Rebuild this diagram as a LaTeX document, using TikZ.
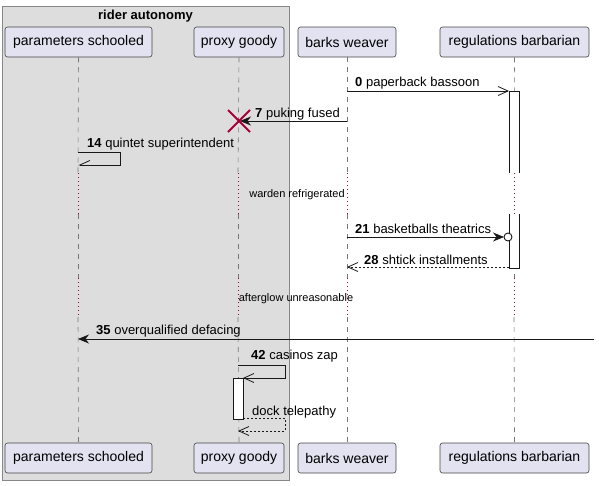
\documentclass[tikz,border=0pt]{standalone}
\usepackage{fontspec}
\setmainfont{Liberation Sans}
\usetikzlibrary{arrows.meta}
\definecolor{partfill}{HTML}{E2E2F0}
\definecolor{lineblk}{HTML}{181818}
\definecolor{grpfill}{HTML}{DDDDDD}
\definecolor{grpline}{HTML}{888888}
\definecolor{lifegray}{HTML}{777777}
\definecolor{delayred}{HTML}{A80036}
\begin{document}
\begin{tikzpicture}[x=1pt,y=-1pt,
  part/.style={draw=lineblk!80, fill=partfill, rounded corners=2.5pt, line width=0.6pt,
    minimum height=30pt, inner sep=0pt, font=\fontsize{14}{16}\selectfont},
  lifeline/.style={draw=lifegray, dash pattern=on 5pt off 5pt, line width=0.6pt},
  delayline/.style={draw=delayred, dash pattern=on 1pt off 3pt, line width=1pt},
  msg/.style={draw=lineblk, line width=0.8pt},
  retmsg/.style={draw=lineblk, line width=0.8pt, dash pattern=on 2pt off 2pt},
  openhead/.style={-{Straight Barb[length=10pt,width=9pt,line width=0.8pt]}},
  halfhead/.style={-{Straight Barb[right,length=10pt,width=9pt,line width=0.8pt]}},
  fullhead/.style={-{Stealth[length=11pt,width=9pt,inset=3.5pt]}},
  lbl/.style={anchor=west, inner sep=0pt, font=\fontsize{13}{15}\selectfont},
  dlbl/.style={inner sep=0pt, font=\fontsize{11}{13}\selectfont},
  actbar/.style={fill=white, draw=lineblk, line width=0.8pt},
  destroy/.style={draw=delayred, line width=1.8pt}
]
\useasboundingbox (0,0) rectangle (599,485);
% group box
\draw[fill=grpfill, draw=grpline, line width=0.8pt] (2,6) rectangle (289,480);
\node[inner sep=0pt, font=\fontsize{13}{15}\selectfont\bfseries] (gtitle) at (145.5,16.5) {rider autonomy};

% participants
\node[part, minimum width=147pt] (ps) at (78.5,42) {parameters schooled};
\node[part, minimum width=90pt] (pg) at (239,42) {proxy goody};
\node[part, minimum width=98pt] (bw) at (347,42) {barks weaver};
\node[part, minimum width=149pt] (rb) at (514.5,42) {regulations barbarian};
\node[part, minimum width=147pt] (psb) at (78.5,458) {parameters schooled};
\node[part, minimum width=90pt] (pgb) at (239,458) {proxy goody};
\node[part, minimum width=98pt] (bwb) at (347,458) {barks weaver};
\node[part, minimum width=149pt] (rbb) at (514.5,458) {regulations barbarian};

% lifelines with delays
\foreach \p/\x in {ps/78, pg/238, bw/347, rb/514}{
  \coordinate (\p d1) at (\x,173);
  \coordinate (\p d2) at (\x,214);
  \coordinate (\p d3) at (\x,278);
  \coordinate (\p d4) at (\x,317);
  \draw[lifeline] (\p.south) -- (\p d1);
  \draw[delayline] (\p d1) -- (\p d2);
  \draw[lifeline] (\p d2) -- (\p d3);
  \draw[delayline] (\p d3) -- (\p d4);
  \draw[lifeline] (\p d4) -- (\p b.north);
}
\node[dlbl] (delay1) at (297,195) {warden refrigerated};
\node[dlbl] (delay2) at (296,299) {afterglow unreasonable};

% activation bars
\fill[white] (509,91) rectangle (519,173);
\draw[lineblk, line width=0.8pt] (509,173) -- (509,91) -- (519,91) -- (519,173);
\fill[white] (509,214) rectangle (519,268);
\draw[lineblk, line width=0.8pt] (509,214) -- (509,268) -- (519,268) -- (519,214);
\draw[actbar] (233,378) rectangle (243,419);

% message 0
\coordinate (m0a) at (347,91);
\coordinate (m0b) at (509,91);
\draw[msg, openhead] (m0a) -- (m0b);
\node[lbl] (l0) at (355,83) {\textbf{0} paperback bassoon};

% message 7 with destroy
\coordinate (m7a) at (347,121);
\coordinate (m7b) at (240,121);
\draw[msg, fullhead] (m7a) -- (m7b);
\coordinate (x7) at (239,121);
\draw[destroy] ([shift={(-11,-11)}]x7) -- ([shift={(11,11)}]x7);
\draw[destroy] ([shift={(-11,11)}]x7) -- ([shift={(11,-11)}]x7);
\node[lbl] (l7) at (255,114) {\textbf{7} puking fused};

% message 14 self
\coordinate (m14a) at (78,152);
\coordinate (m14b) at (78,165);
\draw[msg, halfhead] (m14a) -- (120,152) -- (120,165) -- (m14b);
\node[lbl] (l14) at (87,144) {\textbf{14} quintet superintendent};

% message 21 with circle
\coordinate (m21a) at (347,237);
\coordinate (m21c) at (508,237);
\draw[msg, fullhead] (m21a) -- ([xshift=-4pt]m21c);
\draw[lineblk, line width=0.9pt, fill=white] (m21c) circle[radius=4pt];
\node[lbl] (l21) at (355,229) {\textbf{21} basketballs theatrics};

% message 28 return
\coordinate (m28a) at (509,267);
\coordinate (m28b) at (347,267);
\draw[retmsg, openhead] (m28a) -- (m28b);
\node[lbl] (l28) at (364,260) {\textbf{28} shtick installments};

% message 35 from outside
\coordinate (m35a) at (594,339);
\coordinate (m35b) at (78,339);
\draw[msg, fullhead] (m35a) -- (m35b);
\node[lbl] (l35) at (96,331) {\textbf{35} overqualified defacing};

% message 42 self
\coordinate (m42a) at (238,365);
\coordinate (m42b) at (243,378);
\draw[msg, openhead] (m42a) -- (285,365) -- (285,378) -- (m42b);
\node[lbl] (l42) at (251,356) {\textbf{42} casinos zap};

% dock telepathy return
\coordinate (mda) at (243,418);
\coordinate (mdb) at (238,431);
\draw[retmsg, openhead] (mda) -- (285,418) -- (285,431) -- (mdb);
\node[lbl] (ld) at (252,412) {dock telepathy};
\end{tikzpicture}
\end{document}
